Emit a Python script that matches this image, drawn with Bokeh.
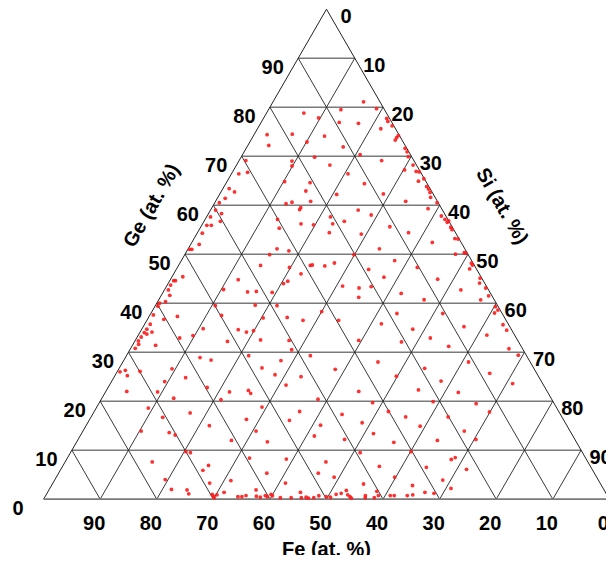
import numpy as np
from bokeh.plotting import figure
from bokeh.models import Range1d
from bokeh.core.properties import value
from bokeh.embed import file_html
from bokeh.resources import INLINE

# ---------------- data (at. %) ----------------
# each point: Ge, Si  (Fe = 100 - Ge - Si)
ge = [52.0, 51.0, 51.0, 51.1, 50.7, 49.9, 47.7, 47.3, 46.0, 47.7, 47.8,
      45.4, 44.6, 44.6, 43.7, 42.7, 41.6, 40.3, 40.0, 39.4,
      44.8, 42.8, 42.3, 42.4, 42.2, 44.5, 44.0, 39.6, 39.5, 39.5,
      37.6, 36.7, 35.7, 34.7, 34.0, 33.1, 32.3, 30.8, 33.7, 34.1, 31.6, 31.4,
      37.3, 32.9, 33.4, 34.8, 37.5, 32.2, 34.6, 34.1, 34.4, 37.0, 32.5, 37.1, 36.5, 32.4, 30.5, 29.3,
      26.0, 26.3, 25.2, 22.0, 26.1, 26.6, 24.0, 21.9, 24.8, 28.9, 28.4, 22.8, 20.6, 21.9, 20.3, 29.3,
      26.8, 22.2, 21.6, 28.3, 25.4, 23.3, 25.0, 20.4,
      18.6, 16.7, 13.9, 13.6, 13.1, 17.6, 15.0, 12.0, 16.3, 13.9, 11.7, 18.8, 16.1, 17.9, 15.1, 12.9, 9.7, 9.5,
      7.6, 4.0, 2.0, 1.9, 1.1, 5.9, 6.9, 3.3, 1.0, 0.7, 0.3, 0.9, 1.4, 3.8, 8.4, 5.3,
      0.5, 0.5, 0.75, 1.9, 0.6, 0.4, 0.75, 0.5, 1.0, 0.7,
      8.2, 3.3, 0.3, 0.3, 1.4, 0.3, 0.4, 0.2, 0.3, 0.7, 5.3,
      52.4, 53.2, 53.1, 50.0, 50.3, 50.2, 51.1,
      47.6, 48.2, 49.9, 48.7, 46.9, 47.3, 45.3, 44.9, 47.0, 47.8, 48.2, 45.1, 44.1, 43.1, 42.7,
      43.5, 43.1, 41.2, 43.4, 42.0, 40.7, 41.5, 40.7,
      38.3, 36.5, 35.8, 37.9, 34.7, 37.9, 35.2, 39.3, 38.6, 38.0, 35.6, 34.5, 33.5, 32.4, 32.1, 32.9,
      31.2, 30.7, 29.4,
      26.5, 28.0, 25.1, 26.7, 24.1, 28.0, 25.7, 23.6, 22.0, 22.3, 21.8,
      19.7, 19.9, 19.5, 17.8, 17.3, 15.6, 17.9, 16.8, 14.9, 16.8, 13.4, 12.2, 11.6, 12.0, 13.9, 12.2,
      9.5, 9.7, 7.6, 6.7, 6.5, 8.1, 8.5, 6.1, 4.5, 3.1, 4.5, 2.8, 3.9, 2.2,
      1.2, 1.8, 0.9, 0.5, 0.2, 1.0, 0.5, 0.4,
      0.3, 0.75, 0.3, 1.6, 0.75, 0.75, 0.75, 0.75, 0.9, 1.4, 1.2,
      81.1, 79.7, 79.5, 78.8, 77.8, 76.9, 76.7, 77.7, 77.1, 76.2, 75.6, 74.2, 73.8, 73.3,
      74.4, 72.2, 74.5, 72.9, 74.1, 71.9, 70.3, 71.6, 69.9, 70.9, 69.8, 69.1, 69.1, 66.4, 66.7, 69.0,
      68.0, 68.2, 66.4,
      64.8, 64.6, 62.9, 64.4, 62.2, 62.3, 67.2, 68.2, 66.9, 66.8, 64.9, 65.4, 63.8, 63.3, 62.6, 61.6,
      60.5, 59.3, 60.8,
      63.4, 62.7, 61.4, 60.5, 59.0, 58.3, 57.6, 56.7, 55.9, 55.9, 54.3,
      60.3, 60.6, 59.5, 59.1, 60.8, 57.1, 55.3, 56.2, 56.0, 57.6, 56.2, 54.4, 56.7, 59.0, 58.0, 54.1,
      55.6, 54.4,
      57.8, 57.1, 56.5, 55.5, 55.0, 56.8]

si = [1.5, 0.7, 0.3, 15.7, 18.0, 15.0, 14.5, 19.8, 22.5, 23.3, 23.6,
      1.9, 0.7, 1.0, 0.6, 0.7, 1.5, 1.4, 0.5, 0.5,
      12.0, 10.4, 14.9, 16.4, 19.3, 20.9, 20.4, 17.6, 21.5, 10.6,
      0.6, 2.9, 1.0, 0.9, 0.8, 0.7, 0.6, 0.8, 1.4, 2.1, 1.0, 4.1,
      5.0, 7.6, 9.7, 10.8, 12.7, 16.4, 17.1, 18.8, 19.9, 20.3, 22.1, 24.5, 27.6, 27.2, 28.6, 32.5,
      0.5, 1.3, 2.2, 3.7, 4.0, 9.4, 9.4, 9.2, 12.7, 13.2, 15.4, 17.5, 12.7, 21.9, 21.2, 21.6,
      25.2, 25.1, 25.8, 27.8, 28.2, 31.2, 33.0, 38.3,
      9.2, 12.7, 10.3, 15.4, 16.7, 17.1, 21.8, 27.2, 27.7, 30.6, 33.7, 29.2, 35.4, 36.3, 41.4, 41.4, 20.3, 21.2,
      15.4, 19.5, 21.6, 24.4, 25.1, 25.2, 25.7, 27.7, 29.3, 29.6, 30.0, 30.2, 31.2, 31.2, 32.2, 36.8,
      34.1, 34.8, 35.4, 36.6, 37.3, 38.1, 38.8, 39.3, 39.7, 40.1,
      38.8, 41.1, 41.7, 43.6, 44.7, 45.4, 46.2, 46.7, 47.6, 48.3, 45.9,
      42.5, 46.1, 46.7, 47.8, 49.2, 49.5, 33.8,
      25.9, 27.3, 29.9, 37.7, 34.0, 42.4, 37.5, 47.2, 51.8, 51.9, 51.5, 54.6, 55.0, 56.6, 52.4,
      31.1, 34.2, 35.1, 36.2, 42.2, 46.9, 57.9, 56.9,
      30.0, 33.9, 41.8, 43.5, 47.9, 51.6, 56.7, 60.2, 61.0, 60.7, 63.4, 64.6, 61.6, 39.5, 47.2, 51.9,
      56.0, 66.9, 69.2,
      38.3, 45.1, 49.8, 54.0, 58.2, 61.1, 66.0, 71.1, 44.7, 55.1, 62.4,
      48.3, 58.9, 66.7, 69.9, 44.1, 48.5, 52.0, 55.6, 59.1, 63.1, 51.6, 47.1, 56.1, 63.6, 67.4, 70.3,
      51.2, 60.1, 46.1, 56.0, 64.4, 68.0, 68.5, 71.7, 49.1, 55.0, 59.8, 63.8, 68.6, 70.9,
      52.0, 52.6, 53.3, 53.9, 54.3, 51.2, 49.7, 50.5,
      56.7, 56.5, 58.3, 58.1, 58.8, 60.9, 61.6, 63.9, 64.8, 66.7, 68.4,
      16.0, 19.0, 12.8, 6.6, 9.7, 13.8, 17.3, 21.8, 22.3, 23.5, 21.8, 25.6, 25.5, 25.5,
      2.3, 3.7, 6.7, 10.1, 12.6, 17.0, 20.8, 28.1, 29.5, 28.8, 13.0, 25.2, 1.2, 1.3, 2.7, 9.4,
      9.9, 16.5, 20.6,
      10.2, 14.8, 14.9, 24.5, 20.7, 28.9, 30.2, 31.2, 32.4, 33.0, 33.8, 34.5, 35.8, 36.4, 37.0, 37.6,
      39.3, 38.3, 33.6,
      1.1, 2.4, 1.4, 0.8, 0.9, 2.3, 0.7, 2.9, 0.9, 1.7, 0.9,
      12.7, 13.6, 15.7, 15.7, 16.8, 12.8, 14.0, 17.4, 19.7, 21.9, 23.0, 23.3, 24.8, 26.1, 28.9, 29.1,
      33.4, 37.3,
      41.4, 42.4, 43.1, 44.2, 44.7, 43.2]

tick_values = [0, 10, 20, 30, 40, 50, 60, 70, 80, 90]
grid_values = [10, 20, 30, 40, 50, 60, 70, 80, 90]
fe_title = "Fe (at. %)"
ge_title = "Ge (at. %)"
si_title = "Si (at. %)"

# ---------------- geometry helpers ----------------
H = np.sqrt(3) / 2.0


def to_xy(si_v, ge_v):
    si_v = np.asarray(si_v, dtype=float)
    ge_v = np.asarray(ge_v, dtype=float)
    return si_v + ge_v / 2.0, ge_v * H


FONT = value("Liberation Sans")

p = figure(width=606, height=555,
           x_range=Range1d(-7.618, 99.49), y_range=Range1d(-9.95, 88.14),
           output_backend="svg", toolbar_location=None,
           x_axis_type=None, y_axis_type=None, min_border=0)
p.grid.grid_line_color = None
p.outline_line_color = None
p.background_fill_color = "white"
p.border_fill_color = "white"

g = np.array(grid_values, dtype=float)
# horizontal lines: Ge = const (gray)
hx0, hy0 = to_xy(np.zeros_like(g), g)
hx1, hy1 = to_xy(100 - g, g)
p.segment(hx0, hy0, hx1, hy1, line_color="#7a7a7a", line_width=1.6)
# Fe = const lines (parallel to right edge)
fx0, fy0 = to_xy(100 - g, np.zeros_like(g))
fx1, fy1 = to_xy(np.zeros_like(g), 100 - g)
p.segment(fx0, fy0, fx1, fy1, line_color="#222222", line_width=0.9)
# Si = const lines (parallel to left edge)
sx0, sy0 = to_xy(g, np.zeros_like(g))
sx1, sy1 = to_xy(g, 100 - g)
p.segment(sx0, sy0, sx1, sy1, line_color="#222222", line_width=0.9)

# triangle outline
vx, vy = to_xy([0, 100, 0], [0, 0, 100])
p.segment([vx[0], vx[2]], [vy[0], vy[2]], [vx[2], vx[1]], [vy[2], vy[1]],
          line_color="#222222", line_width=1.0)
p.segment([vx[0]], [vy[0]], [vx[1]], [vy[1]], line_color="#7a7a7a", line_width=1.8)

# data points
px, py = to_xy(si, ge)
p.scatter(px, py, size=3.8, fill_color="#ff1a1a", line_color=None, fill_alpha=0.9)

t = np.array(tick_values, dtype=float)
labels = [str(v) for v in tick_values]
common = dict(text_font=FONT, text_font_style="bold", text_font_size="20px",
              text_color="black")
# Fe ticks along bottom
bx, by = to_xy(100 - t, np.zeros_like(t))
p.text(bx, by, text=labels, x_offset=-6, y_offset=24, text_align="center",
       text_baseline="alphabetic", **common)
# Ge ticks along left edge
lx, ly = to_xy(np.zeros_like(t), t)
p.text(lx, ly, text=labels, x_offset=-25.5, y_offset=8.5, text_align="center",
       text_baseline="alphabetic", **common)
# Si ticks along right edge
rx, ry = to_xy(t, 100 - t)
p.text(rx, ry, text=labels, x_offset=19.5, y_offset=7, text_align="center",
       text_baseline="alphabetic", **common)

# axis titles
tx, ty = to_xy([50], [0])
p.text(tx, ty, text=[fe_title], x_offset=0, y_offset=50, text_align="center",
       text_baseline="alphabetic", **common)
gx, gy = to_xy([0], [60])
p.text(gx, gy, text=[ge_title], x_offset=-62.3, y_offset=0, angle=np.pi / 3,
       text_align="center", text_baseline="middle", **common)
sxx, syy = to_xy([40], [60])
p.text(sxx, syy, text=[si_title], x_offset=63, y_offset=0.5, angle=-np.pi / 3,
       text_align="center", text_baseline="middle", **common)

open("out.html", "w").write(file_html(p, INLINE))
